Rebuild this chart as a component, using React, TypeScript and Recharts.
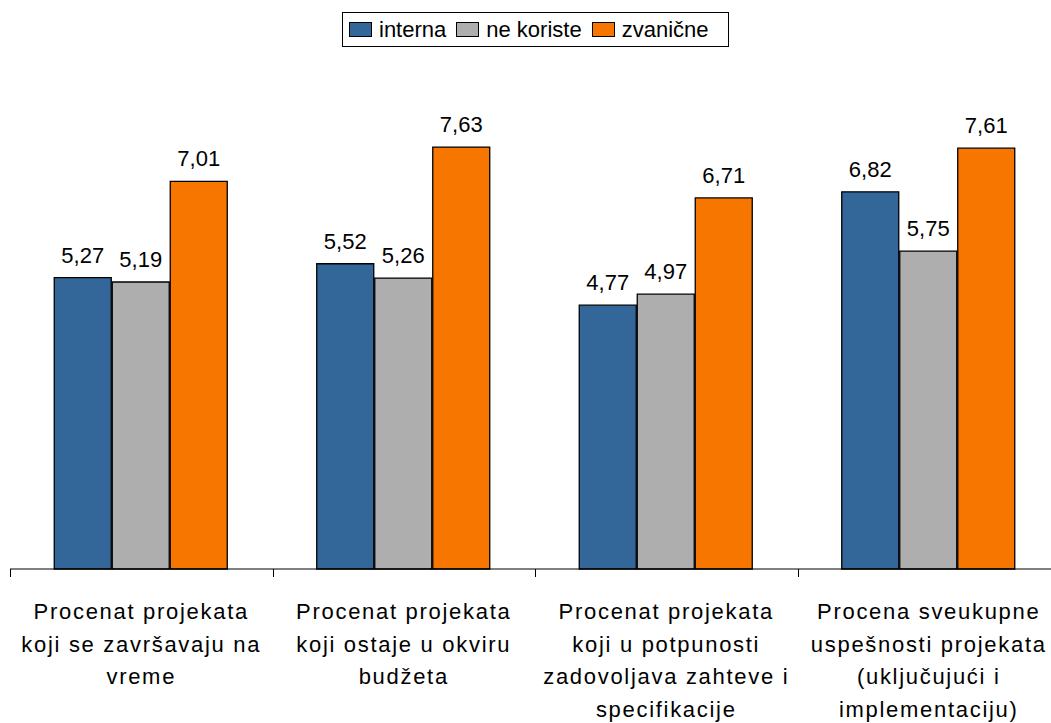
import React from "react";
import { BarChart, Bar, XAxis, YAxis, LabelList } from "recharts";

// Ocene po kategorijama, za tri grupe ispitanika
const categoryLines = [
  ["Procenat projekata", "koji se završavaju na", "vreme"],
  ["Procenat projekata", "koji ostaje u okviru", "budžeta"],
  ["Procenat projekata", "koji u potpunosti", "zadovoljava zahteve i", "specifikacije"],
  ["Procena sveukupne", "uspešnosti projekata", "(uključujući i", "implementaciju)"],
];
const interna = [5.27, 5.52, 4.77, 6.82];
const neKoriste = [5.19, 5.26, 4.97, 5.75];
const zvanicne = [7.01, 7.63, 6.71, 7.61];

const series = [
  { key: "interna", name: "interna", color: "#336699" },
  { key: "neKoriste", name: "ne koriste", color: "#AEAEAE" },
  { key: "zvanicne", name: "zvanične", color: "#F77600" },
];

const data = categoryLines.map((lines, i) => ({
  name: lines.join(" "),
  interna: interna[i],
  neKoriste: neKoriste[i],
  zvanicne: zvanicne[i],
}));

const FONT = "'Liberation Sans', Arial, sans-serif";
const CHART_W = 1080;
const CHART_H = 723;
const MARGIN = { top: 16, right: 20, bottom: 0, left: 10 };
const BAND = (CHART_W - MARGIN.left - MARGIN.right) / categoryLines.length;

const CategoryTick = (props: any) => {
  const { x, y, payload } = props;
  const lines = categoryLines[payload.index] || [];
  const left = Math.round(x - BAND / 2) + 0.5;
  return (
    <g>
      <line x1={left} y1={y - 8} x2={left} y2={y} stroke="#000" strokeWidth={1} />
      <text
        x={x}
        y={y + 42}
        textAnchor="middle"
        fontFamily={FONT}
        fontSize={22}
        letterSpacing={1.7}
        fill="#000"
      >
        {lines.map((line, i) => (
          <tspan key={i} x={x} dy={i === 0 ? 0 : 32.5}>
            {line}
          </tspan>
        ))}
      </text>
    </g>
  );
};

const ValueLabel = (props: any) => {
  const { x, y, width, value } = props;
  return (
    <text
      x={x + width / 2}
      y={y - 15}
      textAnchor="middle"
      fontFamily={FONT}
      fontSize={22}
      fill="#000"
    >
      {Number(value).toFixed(2).replace(".", ",")}
    </text>
  );
};

const LegendBox = () => (
  <div
    style={{
      position: "absolute",
      left: 342,
      top: 12,
      width: 387,
      height: 35,
      boxSizing: "border-box",
      border: "1px solid #000",
      display: "flex",
      alignItems: "center",
      paddingLeft: 6,
      fontFamily: FONT,
      fontSize: 22,
      background: "#fff",
    }}
  >
    {series.map((s) => (
      <div key={s.key} style={{ display: "flex", alignItems: "center", marginRight: 10 }}>
        <span
          style={{
            display: "inline-block",
            width: 23,
            height: 15,
            boxSizing: "border-box",
            border: "1.5px solid #000",
            background: s.color,
            marginRight: 7,
          }}
        />
        <span>{s.name}</span>
      </div>
    ))}
  </div>
);

export default function App() {
  return (
    <div
      style={{
        position: "fixed",
        left: 0,
        top: 0,
        width: 1051,
        height: 723,
        overflow: "hidden",
        background: "#fff",
      }}
    >
      <BarChart
        width={CHART_W}
        height={CHART_H}
        data={data}
        margin={MARGIN}
        barCategoryGap={44.25}
        barGap={1}
      >
        <XAxis
          dataKey="name"
          interval={0}
          height={154}
          tickLine={false}
          tickSize={8}
          tickMargin={0}
          axisLine={{ stroke: "#000", strokeWidth: 1 }}
          tick={<CategoryTick />}
        />
        <YAxis hide domain={[0, 10]} />
        {series.map((s) => (
          <Bar
            key={s.key}
            dataKey={s.key}
            name={s.name}
            fill={s.color}
            stroke="#000"
            strokeWidth={1.3}
            isAnimationActive={false}
          >
            <LabelList dataKey={s.key} content={<ValueLabel />} />
          </Bar>
        ))}
      </BarChart>
      <LegendBox />
    </div>
  );
}
